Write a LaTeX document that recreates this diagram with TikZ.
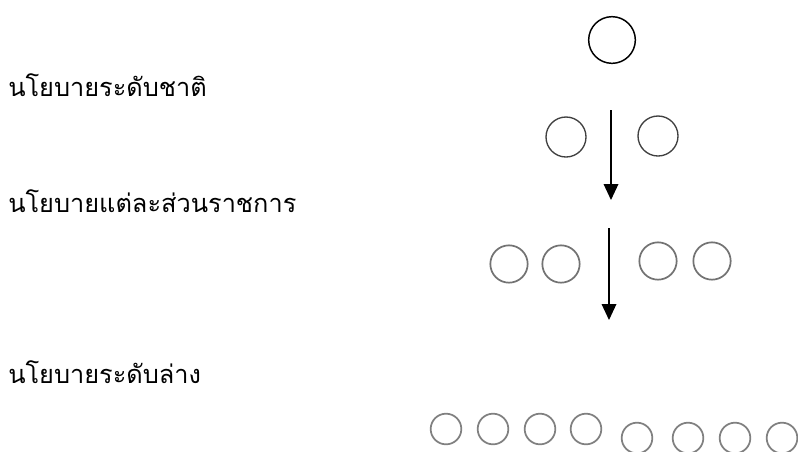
\documentclass[tikz,border=0pt]{standalone}
\usepackage{fontspec}
\newfontfamily\thaifont[Script=Thai]{Loma}
\usetikzlibrary{arrows.meta}
\begin{document}
\begin{tikzpicture}[x=0.75pt,y=0.75pt,yscale=-1,xscale=1,
    level/.style={anchor=base west, inner sep=0pt, font=\thaifont\fontsize{19}{23}\selectfont},
    unit/.style={circle, draw=#1, inner sep=0pt},
    flow/.style={line width=1pt, -{Triangle[length=12pt, width=11pt]}}]
    \path [use as bounding box] (0,0) rectangle (798,451);

    % Text Node
    \draw (8,96) node [level] (lvlA) {นโยบายระดับชาติ};
    % Text Node
    \draw (8,212) node [level] (lvlB) {นโยบายแต่ละส่วนราชการ};
    % Text Node
    \draw (8,383) node [level] (lvlC) {นโยบายระดับล่าง};

    % Circle (top)
    \draw (612,40) node [unit=black, line width=1.1pt, minimum width=33pt, minimum height=35pt] (topU) {};
    % Circles (second row)
    \draw (566,137) node [unit={black!75}, line width=1pt, minimum size=30pt] (deptL) {};
    \draw (658,136) node [unit={black!75}, line width=1pt, minimum size=30pt] (deptR) {};
    % Circles (third row)
    \foreach \cx/\cy/\nm in {509/264/secA, 561/264/secB, 658/261/secC, 712/261/secD}
        \draw (\cx,\cy) node [unit={black!55}, line width=1.3pt, minimum size=28pt] (\nm) {};
    % Circles (bottom row)
    \foreach \cx/\cy/\nm in {446/429/lowA, 493/429/lowB, 540/429/lowC, 586/429/lowD, 637/438/lowE, 688/438/lowF, 735/438/lowG, 782/438/lowH}
        \draw (\cx,\cy) node [unit={black!50}, line width=1.3pt, minimum size=23pt] (\nm) {};

    % Connection
    \coordinate (arrAs) at (611,110);
    \coordinate (arrAe) at (611,200);
    \draw [flow] (arrAs) -- (arrAe);
    % Connection
    \coordinate (arrBs) at (609,228);
    \coordinate (arrBe) at (609,320);
    \draw [flow] (arrBs) -- (arrBe);

\end{tikzpicture}
\end{document}
